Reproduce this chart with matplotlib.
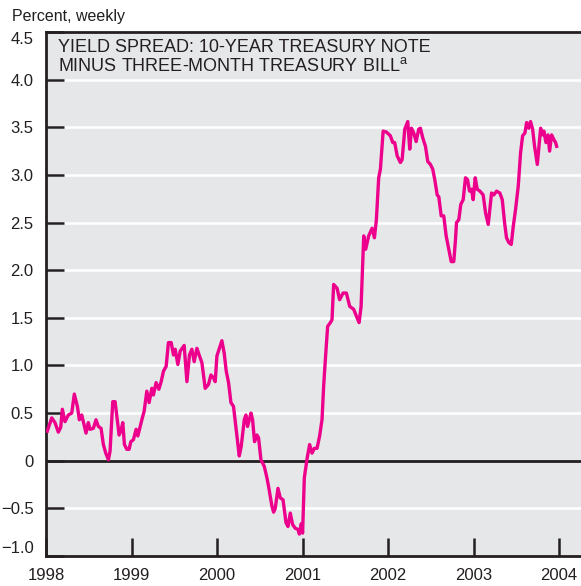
import numpy as np
import matplotlib
matplotlib.use('Agg')
import matplotlib.pyplot as plt

# Spread semanal (10 anos menos 3 meses)
anos = np.array([
    1998.015, 1998.067, 1998.105, 1998.144, 1998.172, 1998.191, 1998.222, 1998.261,
    1998.301, 1998.331, 1998.367, 1998.390, 1998.418, 1998.468, 1998.495, 1998.515,
    1998.554, 1998.585, 1998.612, 1998.644, 1998.671, 1998.699, 1998.730, 1998.749,
    1998.781, 1998.808, 1998.828, 1998.855, 1998.875, 1998.898, 1998.917, 1998.945,
    1998.972, 1998.992, 1999.022, 1999.054, 1999.074, 1999.101, 1999.121, 1999.148,
    1999.179, 1999.206, 1999.238, 1999.256, 1999.288, 1999.320, 1999.347, 1999.374,
    1999.405, 1999.432, 1999.464, 1999.491, 1999.511, 1999.542, 1999.569, 1999.616,
    1999.648, 1999.678, 1999.706, 1999.733, 1999.765, 1999.795, 1999.823, 1999.862,
    1999.900, 1999.929, 1999.959, 1999.979, 1999.999, 2000.057, 2000.084, 2000.108,
    2000.135, 2000.163, 2000.193, 2000.233, 2000.260, 2000.283, 2000.319, 2000.338,
    2000.357, 2000.397, 2000.416, 2000.439, 2000.467, 2000.486, 2000.514, 2000.553,
    2000.584, 2000.603, 2000.643, 2000.662, 2000.681, 2000.713, 2000.740, 2000.772,
    2000.807, 2000.830, 2000.857, 2000.884, 2000.916, 2000.947, 2000.963, 2000.986,
    2001.001, 2001.021, 2001.053, 2001.083, 2001.111, 2001.138, 2001.170, 2001.200,
    2001.228, 2001.247, 2001.267, 2001.294, 2001.326, 2001.345, 2001.364, 2001.404,
    2001.434, 2001.474, 2001.513, 2001.552, 2001.598, 2001.638, 2001.662, 2001.685,
    2001.716, 2001.739, 2001.774, 2001.814, 2001.841, 2001.864, 2001.891, 2001.911,
    2001.943, 2001.981, 2002.028, 2002.055, 2002.078, 2002.107, 2002.145, 2002.165,
    2002.196, 2002.231, 2002.254, 2002.274, 2002.301, 2002.329, 2002.359, 2002.379,
    2002.406, 2002.438, 2002.465, 2002.496, 2002.523, 2002.547, 2002.575, 2002.594,
    2002.622, 2002.652, 2002.680, 2002.711, 2002.739, 2002.769, 2002.789, 2002.801,
    2002.828, 2002.851, 2002.879, 2002.906, 2002.930, 2002.953, 2002.977, 2002.996,
    2003.020, 2003.043, 2003.074, 2003.113, 2003.141, 2003.172, 2003.191, 2003.211,
    2003.238, 2003.269, 2003.308, 2003.336, 2003.363, 2003.386, 2003.413, 2003.441,
    2003.465, 2003.492, 2003.523, 2003.550, 2003.574, 2003.601, 2003.621, 2003.647,
    2003.667, 2003.691, 2003.714, 2003.746, 2003.765, 2003.785, 2003.804, 2003.823,
    2003.847, 2003.870, 2003.890, 2003.913, 2003.940, 2003.960, 2003.972,
])
spread = np.array([
    0.31, 0.45, 0.40, 0.30, 0.35, 0.54, 0.41, 0.48,
    0.50, 0.70, 0.57, 0.43, 0.48, 0.29, 0.40, 0.33,
    0.34, 0.43, 0.36, 0.34, 0.17, 0.08, 0.01, 0.10,
    0.62, 0.62, 0.47, 0.27, 0.31, 0.40, 0.17, 0.12,
    0.12, 0.20, 0.22, 0.33, 0.26, 0.36, 0.43, 0.52,
    0.73, 0.61, 0.76, 0.69, 0.82, 0.75, 0.83, 0.94,
    0.99, 1.24, 1.24, 1.11, 1.17, 1.01, 1.15, 1.21,
    0.83, 1.11, 1.17, 1.04, 1.18, 1.10, 1.03, 0.76,
    0.80, 0.90, 0.87, 0.83, 1.10, 1.26, 1.13, 0.94,
    0.82, 0.61, 0.57, 0.26, 0.05, 0.15, 0.43, 0.48,
    0.36, 0.50, 0.43, 0.20, 0.27, 0.24, 0.01, -0.06,
    -0.18, -0.27, -0.48, -0.54, -0.50, -0.29, -0.39, -0.41,
    -0.65, -0.69, -0.55, -0.67, -0.71, -0.72, -0.77, -0.66,
    -0.76, -0.18, 0.02, 0.17, 0.08, 0.13, 0.13, 0.26,
    0.43, 0.78, 1.06, 1.41, 1.45, 1.48, 1.85, 1.81,
    1.69, 1.76, 1.76, 1.62, 1.59, 1.50, 1.45, 1.62,
    2.36, 2.22, 2.36, 2.44, 2.34, 2.53, 2.97, 3.06,
    3.46, 3.45, 3.41, 3.34, 3.34, 3.20, 3.13, 3.16,
    3.48, 3.56, 3.27, 3.49, 3.44, 3.35, 3.48, 3.49,
    3.39, 3.30, 3.14, 3.11, 3.06, 2.95, 2.79, 2.77,
    2.57, 2.57, 2.36, 2.22, 2.09, 2.09, 2.32, 2.50,
    2.53, 2.69, 2.74, 2.97, 2.95, 2.83, 2.85, 2.74,
    2.97, 2.85, 2.83, 2.79, 2.60, 2.48, 2.64, 2.81,
    2.79, 2.83, 2.81, 2.74, 2.50, 2.34, 2.29, 2.27,
    2.46, 2.64, 2.88, 3.23, 3.41, 3.44, 3.55, 3.49,
    3.56, 3.48, 3.30, 3.11, 3.30, 3.49, 3.42, 3.46,
    3.34, 3.42, 3.25, 3.42, 3.37, 3.34, 3.30,
])

anos_ticks = [1998, 1999, 2000, 2001, 2002, 2003, 2004]
y_ticks = [-1.0, -0.5, 0, 0.5, 1.0, 1.5, 2.0, 2.5, 3.0, 3.5, 4.0, 4.5]
y_labels = ['\u22121.0', '\u22120.5', '0', '0.5', '1.0', '1.5', '2.0', '2.5', '3.0', '3.5', '4.0', '4.5']

fonte = ['Liberation Sans', 'DejaVu Sans']

fig = plt.figure(figsize=(5.81, 5.86), dpi=100)
ax = fig.add_axes([46 / 581, 1 - 556 / 586, 1 - 46 / 581, (556 - 32) / 586])
ax.set_facecolor('#e6e7e9')

# Grade branca horizontal
for yv in y_ticks:
    if yv != 0:
        ax.axhline(yv, color='white', linewidth=1.8, zorder=1)
ax.axhline(0, color='#231f20', linewidth=2.0, zorder=2)

ax.plot(anos, spread, color='#ec008c', linewidth=2.4, zorder=3, solid_joinstyle='round')

ax.set_xlim(1998, 2004.257)
ax.set_ylim(-1.0, 4.5)

ax.set_xticks(anos_ticks)
ax.set_xticklabels([str(a) for a in anos_ticks])
ax.set_yticks(y_ticks)
ax.set_yticklabels(y_labels)
ax.tick_params(axis='both', direction='in', length=13, width=1.8, color='#231f20',
               labelsize=12, labelcolor='#231f20')
ax.tick_params(axis='y', pad=9)
ax.tick_params(axis='x', pad=9)
for lab in ax.get_xticklabels() + ax.get_yticklabels():
    lab.set_family(fonte)

# primeiro e último rótulos do eixo y ficam dentro dos limites
ylabs = ax.get_yticklabels()
ylabs[0].set_verticalalignment('bottom')
ylabs[-1].set_verticalalignment('top')

for lado in ['left', 'bottom', 'top']:
    ax.spines[lado].set_linewidth(2.0)
    ax.spines[lado].set_color('#231f20')
ax.spines['right'].set_visible(False)

ax.text(12 / 581, 1 - 16 / 586, 'Percent, weekly', transform=fig.transFigure,
        fontsize=11.5, family=fonte, color='#231f20', ha='left', va='center')

ax.text(58 / 581, 1 - 39 / 586,
        'YIELD SPREAD: 10-YEAR TREASURY NOTE\nMINUS THREE-MONTH TREASURY BILL$^{\\mathregular{a}}$',
        transform=fig.transFigure, fontsize=13, family=fonte, color='#231f20',
        ha='left', va='top', linespacing=1.1)

fig.savefig('out.png', dpi=100)
